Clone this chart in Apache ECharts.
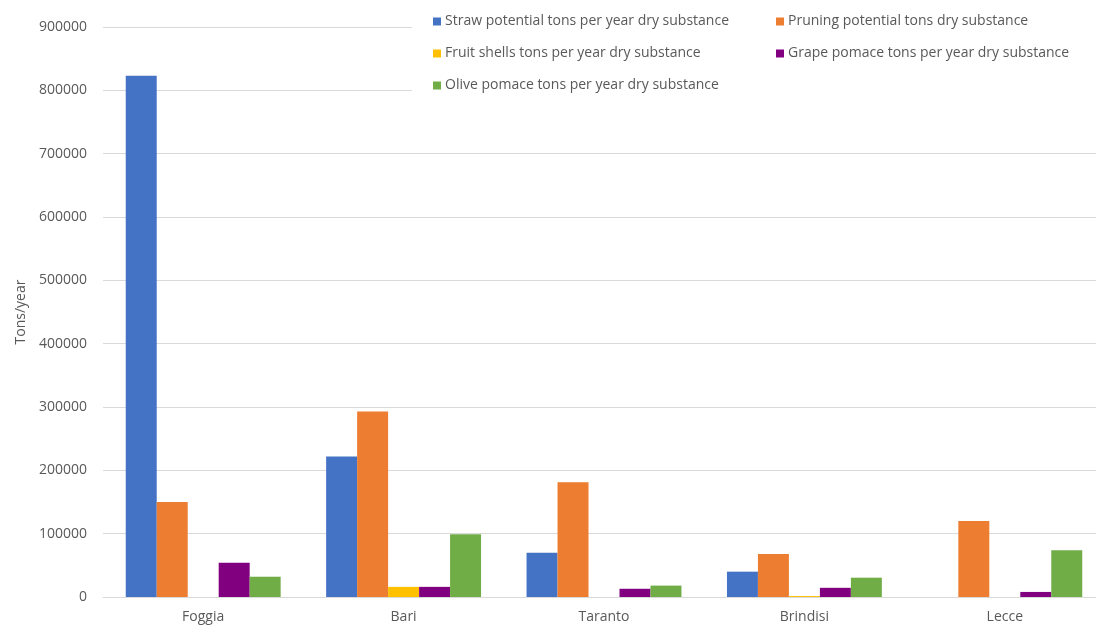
<!DOCTYPE html>
<html>
<head>
<meta charset="utf-8">
<script src="https://cdn.jsdelivr.net/npm/echarts@6/dist/echarts.min.js"></script>
<style>
html,body{margin:0;padding:0;background:#fff;}
#chart{width:1096px;height:627px;}
</style>
</head>
<body>
<div id="chart"></div>
<script>
const categories = ['Foggia', 'Bari', 'Taranto', 'Brindisi', 'Lecce'];
const straw = [823000, 222000, 70000, 40000, 0];
const pruning = [150000, 293000, 181000, 68000, 120000];
const fruitShells = [0, 16000, 0, 1500, 0];
const grapePomace = [54000, 16000, 13000, 14500, 8000];
const olivePomace = [32000, 99000, 18000, 30500, 74000];
const seriesNames = [
  'Straw potential tons per year dry substance',
  'Pruning potential tons dry substance',
  'Fruit shells tons per year dry substance',
  'Grape pomace tons per year dry substance',
  'Olive pomace tons per year dry substance'
];
const yTicks = { min: 0, max: 900000, interval: 100000 };
const colors = ['#4472C4', '#ED7D31', '#FFC000', '#800080', '#70AD47'];
const seriesData = [straw, pruning, fruitShells, grapePomace, olivePomace];

const chart = echarts.init(document.getElementById('chart'), null, { renderer: 'canvas' });
const font = 'Open Sans';
const legendCommon = {
  orient: 'vertical',
  icon: 'rect',
  itemWidth: 8,
  itemHeight: 8,
  itemGap: 13,
  z: 10,
  textStyle: { color: '#595959', fontSize: 14, lineHeight: 19, fontFamily: font, padding: [0, 0, 0, -1] },
  selectedMode: false
};
chart.setOption({
  animation: false,
  color: colors,
  graphic: [{
    type: 'rect',
    z: 5,
    silent: true,
    shape: { x: 412, y: 0, width: 700, height: 100 },
    style: { fill: '#ffffff' }
  }],
  legend: [
    Object.assign({}, legendCommon, { left: 428, top: 7, data: [seriesNames[0], seriesNames[2], seriesNames[4]] }),
    Object.assign({}, legendCommon, { left: 771, top: 7, data: [seriesNames[1], seriesNames[3]] })
  ],
  grid: { left: 103, top: 27, width: 1002, height: 570, containLabel: false, outerBoundsMode: 'none' },
  xAxis: {
    type: 'category',
    data: categories,
    axisLine: { show: true, lineStyle: { color: '#d9d9d9', width: 1 } },
    axisTick: { show: false },
    axisLabel: { color: '#595959', fontSize: 14, fontFamily: font, margin: 13 }
  },
  yAxis: {
    type: 'value',
    min: yTicks.min,
    max: yTicks.max,
    interval: yTicks.interval,
    name: 'Tons/year',
    nameLocation: 'middle',
    nameGap: 74,
    nameRotate: 90,
    nameTextStyle: { color: '#595959', fontSize: 14, fontFamily: font },
    axisLine: { show: false },
    axisTick: { show: false },
    axisLabel: { color: '#595959', fontSize: 14, fontFamily: font, margin: 16, formatter: v => String(v) },
    splitLine: { lineStyle: { color: '#d9d9d9', width: 1 } }
  },
  series: seriesNames.map((n, i) => ({
    name: n,
    type: 'bar',
    data: seriesData[i],
    barGap: '0%',
    barCategoryGap: '22.7%',
    itemStyle: { color: colors[i] }
  }))
});
</script>
</body>
</html>
